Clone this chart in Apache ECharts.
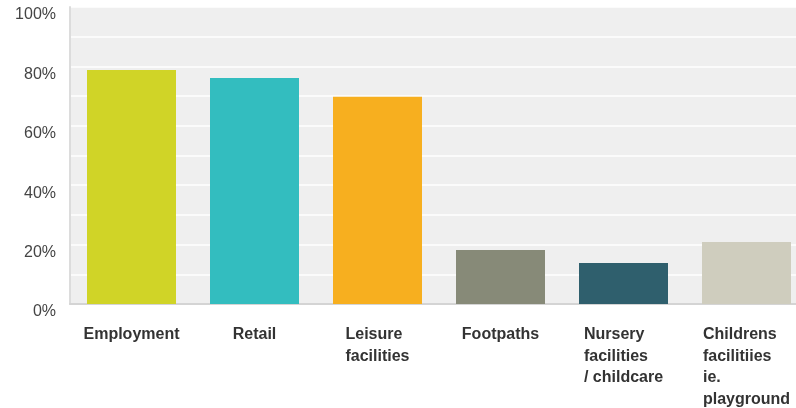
<!DOCTYPE html>
<html>
<head>
<meta charset="utf-8">
<script src="https://cdn.jsdelivr.net/npm/echarts@6/dist/echarts.min.js"></script>
<style>
html,body{margin:0;padding:0;background:#fff;}
#chart{width:796px;height:408px;}
</style>
</head>
<body>
<div id="chart"></div>
<script>
const categories = ['Employment', 'Retail', 'Leisure\nfacilities', 'Footpaths', 'Nursery\nfacilities\n/ childcare', 'Childrens\nfacilitiies\nie.\nplayground'];
const values = [78.8, 76.1, 69.8, 18.2, 13.8, 20.9];
const barColors = ['#d0d427', '#33bdbf', '#f7af1f', '#878a78', '#2f5f6d', '#cfcdbe'];
const yTickLabels = ['0%', '20%', '40%', '60%', '80%', '100%'];

const chart = echarts.init(document.getElementById('chart'), null, {renderer: 'canvas'});
const font = 'Liberation Sans, Arial, Helvetica, sans-serif';

chart.setOption({
  animation: false,
  grid: {
    left: 70, top: 7, width: 738, height: 297,
    outerBoundsMode: 'none',
    containLabel: false,
    show: true, backgroundColor: '#efefef', borderWidth: 0
  },
  xAxis: {
    type: 'category',
    data: categories,
    axisLine: {show: true, lineStyle: {color: '#d4d4d4', width: 2}},
    axisTick: {show: false},
    axisLabel: {
      interval: 0,
      margin: 20,
      formatter: v => v.split('\n').map(s => '{a|' + s + '}').join('\n'),
      rich: {
        a: {
          align: 'left',
          fontFamily: font,
          fontWeight: 'bold',
          fontSize: 16,
          lineHeight: 21.5,
          color: '#333333'
        }
      }
    }
  },
  yAxis: {
    type: 'value',
    min: 0, max: 100, interval: 10,
    axisLine: {show: true, lineStyle: {color: '#dcdcdc', width: 2}},
    axisTick: {show: false},
    splitLine: {show: true, lineStyle: {color: '#ffffff', width: 1.5}},
    axisLabel: {
      margin: 14,
      verticalAlign: 'top',
      fontFamily: font,
      fontSize: 16,
      color: '#444444',
      formatter: v => (v % 20 === 0 ? yTickLabels[v / 20] : '')
    }
  },
  series: [{
    type: 'bar',
    data: values.map((v, i) => ({value: v, itemStyle: {color: barColors[i]}})),
    barWidth: 89
  }]
});
</script>
</body>
</html>
